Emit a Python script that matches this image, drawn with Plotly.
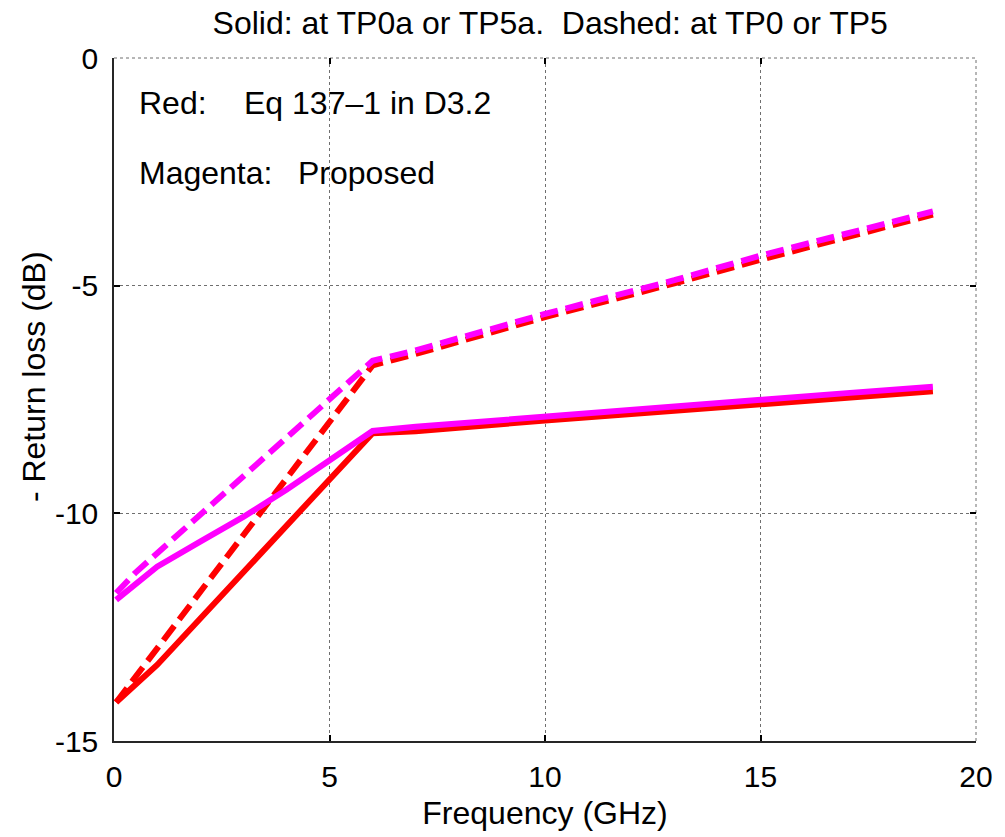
import plotly.graph_objects as go

# Frequency grid points (GHz) and return-loss masks (dB, plotted as negative)
freq_red_solid = [0.05, 1, 6, 7, 10, 13, 17, 19]
rl_red_solid = [-14.15, -13.33, -8.24, -8.2, -7.96, -7.74, -7.44, -7.32]

freq_mag_solid = [0.05, 1, 2, 3, 4, 5, 6, 7, 10, 13, 17, 19]
rl_mag_solid = [-11.9, -11.17, -10.62, -10.08, -9.48, -8.84, -8.19, -8.1, -7.87, -7.65, -7.36, -7.22]

freq_red_dash = [0.05, 6, 7, 10, 13, 15, 19]
rl_red_dash = [-14.15, -6.75, -6.5, -5.69, -4.95, -4.43, -3.44]

freq_mag_dash = [0.05, 0.5, 6, 7, 10, 13, 15, 19]
rl_mag_dash = [-11.75, -11.3, -6.65, -6.42, -5.62, -4.88, -4.34, -3.37]

x_ticks = [0, 5, 10, 15, 20]
y_ticks = [0, -5, -10, -15]
y_tick_text = ["0", "-5", "-10", "-15"]

FONT = "Liberation Sans, Arial, sans-serif"
FS = 32
FS_TICK = 30
RED = "#FF0000"
MAGENTA = "#FF00FF"
GRID = "#6f6f6f"
LW = 6
DASH = "18px,8px"

fig = go.Figure()
fig.add_trace(go.Scatter(x=freq_red_solid, y=rl_red_solid, mode="lines",
                         line=dict(color=RED, width=LW)))
fig.add_trace(go.Scatter(x=freq_red_dash, y=rl_red_dash, mode="lines",
                         line=dict(color=RED, width=LW, dash=DASH)))
fig.add_trace(go.Scatter(x=freq_mag_solid, y=rl_mag_solid, mode="lines",
                         line=dict(color=MAGENTA, width=LW)))
fig.add_trace(go.Scatter(x=freq_mag_dash, y=rl_mag_dash, mode="lines",
                         line=dict(color=MAGENTA, width=LW, dash=DASH)))
# empty trace so the top/right tick-only axes get drawn
fig.add_trace(go.Scatter(x=[None], y=[None], xaxis="x2", yaxis="y2",
                         mode="lines", hoverinfo="skip"))

axis_common = dict(
    ticks="inside", ticklen=6, tickwidth=1.5, tickcolor="black",
    showgrid=True, gridcolor=GRID, gridwidth=1, griddash="dot",
    zeroline=False, showline=True, linecolor="#262626", linewidth=1.5,
    tickfont=dict(family=FONT, size=FS_TICK, color="black"),
)

fig.update_layout(
    width=1005, height=837,
    margin=dict(l=114, r=20, t=58, b=94),
    paper_bgcolor="white", plot_bgcolor="white",
    showlegend=False,
    title=dict(text="Solid: at TP0a or TP5a.\u00a0\u00a0Dashed: at TP0 or TP5",
               x=0.5475, xanchor="center", y=0.973, yanchor="middle",
               font=dict(family=FONT, size=FS, color="black")),
    xaxis=dict(range=[0, 20], tickvals=x_ticks, ticklabelstandoff=8,
               title=dict(text="Frequency (GHz)", standoff=10,
                          font=dict(family=FONT, size=FS, color="black")),
               **axis_common),
    yaxis=dict(range=[-15, 0], tickvals=y_ticks, ticktext=y_tick_text,
               ticklabelstandoff=8, **axis_common),
    xaxis2=dict(overlaying="x", side="top", matches="x", range=[0, 20],
                tickvals=x_ticks, ticks="inside", ticklen=6, tickwidth=1.5,
                tickcolor="black", showticklabels=False, showgrid=False,
                showline=False, zeroline=False),
    yaxis2=dict(overlaying="y", side="right", matches="y", range=[-15, 0],
                tickvals=y_ticks, ticks="inside", ticklen=6, tickwidth=1.5,
                tickcolor="black", showticklabels=False, showgrid=False,
                showline=False, zeroline=False),
)

# dotted grid lines along the top and right edges of the plot area
fig.add_shape(type="line", xref="paper", yref="paper", x0=0, x1=1, y0=1, y1=1,
              line=dict(color=GRID, width=1, dash="dot"), layer="below")
fig.add_shape(type="line", xref="paper", yref="paper", x0=1, x1=1, y0=0, y1=1,
              line=dict(color=GRID, width=1, dash="dot"), layer="below")

# vertical y-axis title
fig.add_annotation(text="- Return loss (dB)", x=-0.093, y=0.534,
                   xref="paper", yref="paper", textangle=-90,
                   xanchor="center", yanchor="middle", showarrow=False,
                   font=dict(family=FONT, size=FS, color="black"))

notes = [
    ("Red:", 0.0264, 0.934),
    ("Eq 137\u20131 in D3.2", 0.148, 0.934),
    ("Magenta:", 0.0264, 0.832),
    ("Proposed", 0.211, 0.832),
]
for txt, xp, yp in notes:
    fig.add_annotation(text=txt, x=xp, y=yp, xref="paper", yref="paper",
                       xanchor="left", yanchor="middle", showarrow=False,
                       font=dict(family=FONT, size=FS, color="black"))

fig.write_html("out.html")
